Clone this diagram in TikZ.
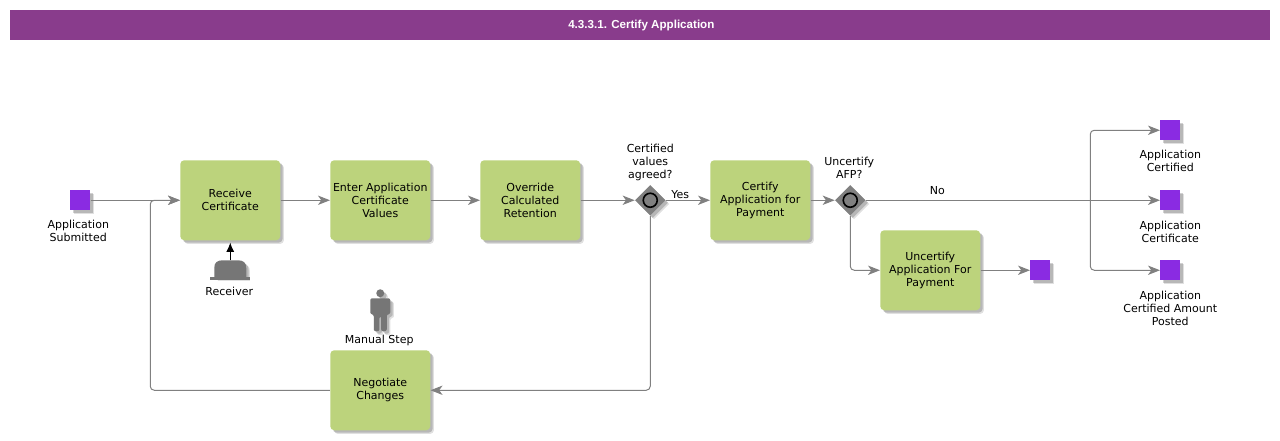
\documentclass[tikz,border=0pt]{standalone}
\usepackage{fontspec}
\setmainfont{DejaVu Sans}
\newfontfamily\titlefont{Liberation Sans}
\usetikzlibrary{arrows.meta,shapes.geometric,shadows}
\definecolor{barcolor}{RGB}{137,60,140}
\definecolor{taskcolor}{RGB}{188,211,124}
\definecolor{eventcolor}{RGB}{138,43,226}
\definecolor{linecolor}{RGB}{128,128,128}
\definecolor{iconcolor}{RGB}{118,118,118}

\begin{document}
\begin{tikzpicture}[x=0.75pt,y=-0.75pt,
    softshadow/.style={drop shadow={shadow xshift=2.8pt,shadow yshift=-2.8pt,opacity=0.12,fill=black},drop shadow={shadow xshift=1.8pt,shadow yshift=-1.8pt,opacity=0.18,fill=black}},
    task/.style={fill=taskcolor,rounded corners=3pt,minimum width=75pt,minimum height=60pt,inner sep=0pt,align=center,softshadow,font=\fontsize{8.25}{9.75}\selectfont},
    event/.style={fill=eventcolor,minimum size=15pt,inner sep=0pt,softshadow},
    gateway/.style={diamond,fill=linecolor,minimum size=23pt,inner sep=0pt,softshadow},
    ring/.style={circle,draw=black,line width=1.2pt,fill=linecolor,minimum size=10.5pt,inner sep=0pt},
    txt/.style={align=center,inner sep=0pt,font=\fontsize{8.25}{9.75}\selectfont},
    flow/.style={draw=linecolor,line width=0.75pt,rounded corners=3pt,-{Stealth[length=9pt,width=7pt,inset=2.5pt]}},
    plain/.style={draw=linecolor,line width=0.75pt,rounded corners=3pt}]
      \useasboundingbox (0,0) rectangle (1280,440);
      \fill[white] (0,0) rectangle (1280,440);
      \node[fill=barcolor,minimum width=945pt,minimum height=22.5pt,inner sep=0pt,text=white,font=\titlefont\bfseries\fontsize{8.7}{11}\selectfont] (title) at (640,25) {\hspace{2pt}4.3.3.1. Certify Application};

      \begin{scope}[shift={(0.25,0.25)}]
      % tasks
      \node[task] (receive) at (230,200) {Receive\\Certificate};
      \node[task] (enter) at (380,200) {Enter Application\\Certificate\\Values};
      \node[task] (override) at (530,200) {Override\\Calculated\\Retention};
      \node[task] (certify) at (760,200) {Certify\\Application for\\Payment};
      \node[task] (uncertify) at (930,270) {Uncertify\\Application For\\Payment};
      \node[task] (negotiate) at (380,390) {Negotiate\\Changes};

      % events
      \node[event] (submitted) at (80,200) {};
      \node[event] (done) at (1040,270) {};
      \node[event] (certified) at (1170,130) {};
      \node[event] (certificate) at (1170,200) {};
      \node[event] (posted) at (1170,270) {};

      % gateways
      \foreach \name/\xpos in {agreed/650, afp/850}{
          \node[gateway] (\name) at (\xpos,200) {};
          \node[ring] (\name ring) at (\xpos,200) {};
      }

      % labels
      \node[txt] (submittedlabel) at (78,231) {Application\\Submitted};
      \node[txt] (agreedlabel) at (650,162) {Certified\\values\\agreed?};
      \node[txt] (afplabel) at (849,168) {Uncertify\\AFP?};
      \node[txt] (certifiedlabel) at (1170,161) {Application\\Certified};
      \node[txt] (certificatelabel) at (1170,232) {Application\\Certificate};
      \node[txt] (postedlabel) at (1170,308) {Application\\Certified Amount\\Posted};
      \node[txt] (yeslabel) at (680,194) {Yes};
      \node[txt] (nolabel) at (937,190) {No};
      \node[txt] (receiverlabel) at (229,291) {Receiver};
      \node[txt] (manuallabel) at (379,340) {Manual Step};

      \coordinate (split) at (1090,200);
      \coordinate (loopcorner) at (150,390);
      \coordinate (loopjoin) at (150,200);

      % connectors
      \draw[flow] (submitted) -- (receive);
      \draw[flow] (receive) -- (enter);
      \draw[flow] (enter) -- (override);
      \draw[flow] (override) -- (agreed);
      \draw[flow] (agreed) -- (certify);
      \draw[flow] (certify) -- (afp);
      \draw[flow] (agreed.south) |- (negotiate.east);
      \draw[flow] (negotiate.west) -- (loopcorner) -- (loopjoin) -- (receive.west);
      \draw[flow] (afp.south) |- (uncertify.west);
      \draw[flow] (uncertify) -- (done);
      \draw[plain] (afp.east) -- (split);
      \draw[flow] (split) -- (certificate);
      \draw[flow] (split) |- (certified);
      \draw[flow] (split) |- (posted);

      % receiver icon
      \coordinate (hattop) at (230,260);
      \fill[iconcolor,softshadow] (214,277) -- (214,268) .. controls (214,262) and (217,260) .. (223,260) -- (237,260) .. controls (243,260) and (246,262) .. (246,268) -- (246,277) -- cycle;
      \fill[iconcolor] (210,277) rectangle (250,280);
      \draw[black,line width=0.75pt,shorten >=1.5pt,-{Latex[length=7pt,width=6pt]}] (hattop) -- (receive.south);

      % person icon
      \fill[iconcolor,softshadow] (380,293) circle (4);
      \fill[iconcolor,softshadow,rounded corners=1.5pt] (370,314) -- (370,298) -- (390,298) -- (390,314) -- (386.5,314) -- (386.5,331) -- (380.8,331) -- (380.8,316) -- (379.2,316) -- (379.2,331) -- (373.5,331) -- (373.5,314) -- cycle;
      \end{scope}
\end{tikzpicture}
\end{document}
